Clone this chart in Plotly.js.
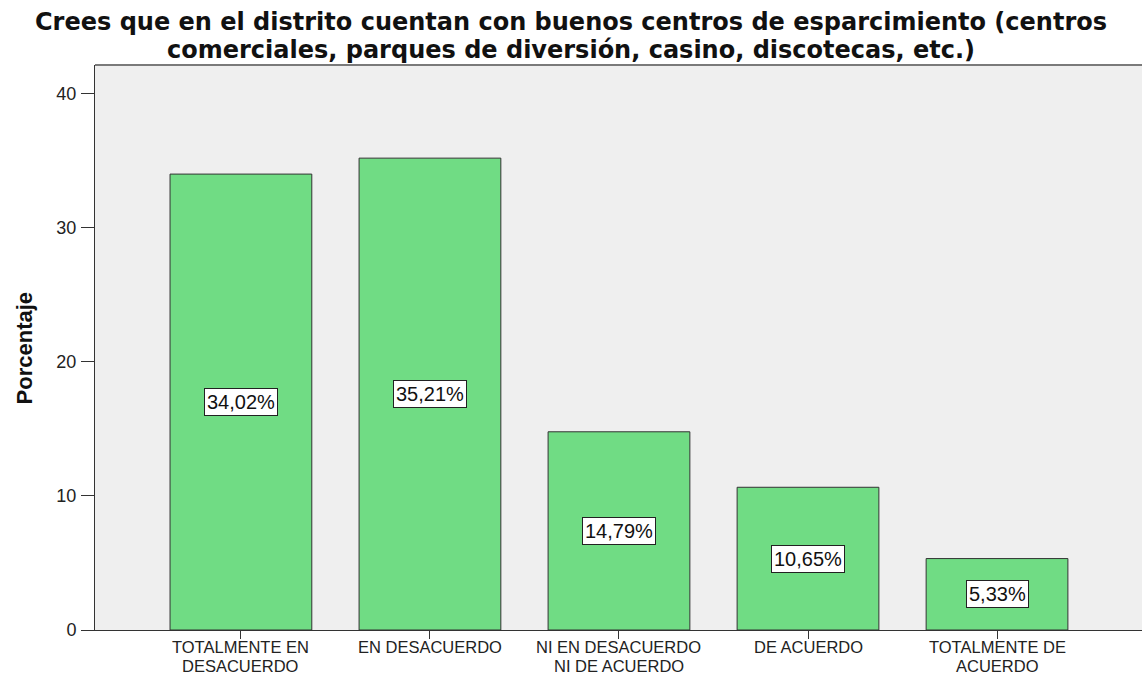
<!DOCTYPE html>
<html>
<head>
<meta charset="utf-8">
<script src="https://cdn.plot.ly/plotly-3.0.1.min.js"></script>
<style>html,body{margin:0;padding:0;background:#fff;}#chart{width:1142px;height:675px;}</style>
</head>
<body>
<div id="chart"></div>
<script>
var categories = ["TOTALMENTE EN<br>DESACUERDO", "EN DESACUERDO", "NI EN DESACUERDO<br>NI DE ACUERDO", "DE ACUERDO", "TOTALMENTE DE<br>ACUERDO"];
var values = [34.02, 35.21, 14.79, 10.65, 5.33];
var valueLabels = ["34,02%", "35,21%", "14,79%", "10,65%", "5,33%"];
var yTicks = [0, 10, 20, 30, 40];
var titleLines = ["Crees que en el distrito cuentan con buenos centros de esparcimiento (centros",
                  "comerciales, parques de diversión, casino, discotecas, etc.)"];
var yTitle = "Porcentaje";

var FONT = "Liberation Sans, Arial, sans-serif";

var trace = {
  type: "bar",
  x: categories,
  y: values,
  width: 0.75,
  marker: {color: "#70dc84", line: {color: "#333333", width: 1}},
  hoverinfo: "none"
};

var annotations = [];
// value labels in boxes, centred in each bar
categories.forEach(function(c, i) {
  annotations.push({
    x: c, y: values[i] / 2, xref: "x", yref: "y",
    text: valueLabels[i], showarrow: false,
    font: {family: FONT, size: 20, color: "#111"},
    bgcolor: "#ffffff", bordercolor: "#222", borderwidth: 1, borderpad: 2
  });
});
// category labels (one annotation per line for tight SPSS-like spacing)
categories.forEach(function(c, i) {
  var lines = c.split("<br>");
  lines.forEach(function(line, k) {
    annotations.push({
      x: c, y: 0, xref: "x", yref: "y",
      text: line, showarrow: false, yanchor: "middle", xanchor: "center",
      yshift: -17 - 18.5 * k, borderpad: 0, borderwidth: 0,
      font: {family: FONT, size: 16.5, color: "#222"}
    });
  });
});
// title lines
titleLines.forEach(function(t, k) {
  annotations.push({
    x: 0.455, y: [1.0761, 1.0257][k], xref: "paper", yref: "paper",
    xanchor: "center", yanchor: "middle", borderpad: 0, borderwidth: 0,
    text: "<b>" + t + "</b>", showarrow: false,
    font: {family: "DejaVu Sans, sans-serif", size: 24, color: "#111"}
  });
});
// y axis title
annotations.push({
  x: -0.0669, y: 0.5, xref: "paper", yref: "paper",
  xanchor: "center", yanchor: "middle", textangle: -90,
  text: "<b>" + yTitle + "</b>", showarrow: false,
  font: {family: FONT, size: 22, color: "#111"}
});

var layout = {
  width: 1142, height: 675,
  margin: {l: 95, r: 0, t: 65, b: 45},
  paper_bgcolor: "#ffffff",
  plot_bgcolor: "#efefef",
  showlegend: false,
  xaxis: {
    type: "category",
    range: [-0.772, 4.767],
    showline: true, linecolor: "#333", linewidth: 1,
    ticks: "outside", ticklen: 8, tickcolor: "#333",
    showticklabels: false,
    showgrid: false, zeroline: false, fixedrange: true
  },
  yaxis: {
    range: [0, 42.16],
    tickvals: yTicks,
    showline: true, linecolor: "#333", linewidth: 1,
    ticks: "outside", ticklen: 13, tickcolor: "#333",
    tickfont: {family: FONT, size: 18, color: "#222"},
    ticklabelstandoff: 1,
    showgrid: false, zeroline: false, fixedrange: true
  },
  shapes: [{type: "line", xref: "paper", yref: "paper", x0: 0, x1: 1, y0: 1, y1: 1,
            line: {color: "#7a7a7a", width: 2}}],
  annotations: annotations
};

Plotly.newPlot("chart", [trace], layout, {displayModeBar: false, staticPlot: true});
</script>
</body>
</html>
